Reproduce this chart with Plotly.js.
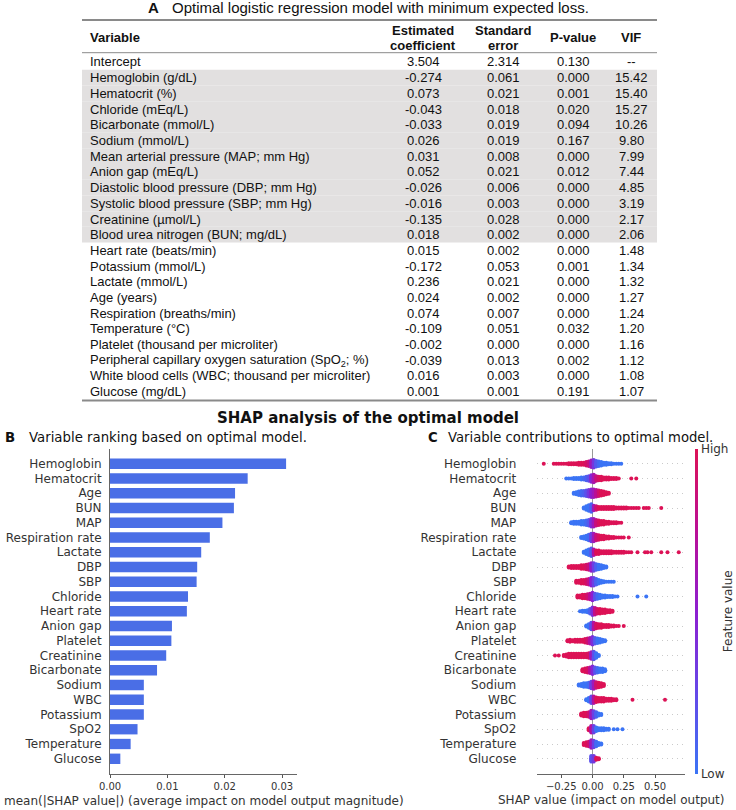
<!DOCTYPE html>
<html><head><meta charset="utf-8">
<script src="https://cdn.plot.ly/plotly-3.0.1.min.js"></script>
<style>html,body{margin:0;padding:0;background:#fff}</style>
</head><body><div id="chart" style="width:736px;height:810px"></div>
<script>
// ---------------- Table A data ----------------
const tableVariables = ['Intercept','Hemoglobin (g/dL)','Hematocrit (%)','Chloride (mEq/L)','Bicarbonate (mmol/L)','Sodium (mmol/L)',
  'Mean arterial pressure (MAP; mm Hg)','Anion gap (mEq/L)','Diastolic blood pressure (DBP; mm Hg)','Systolic blood pressure (SBP; mm Hg)',
  'Creatinine (µmol/L)','Blood urea nitrogen (BUN; mg/dL)','Heart rate (beats/min)','Potassium (mmol/L)','Lactate (mmol/L)','Age (years)',
  'Respiration (breaths/min)','Temperature (°C)','Platelet (thousand per microliter)','Peripheral capillary oxygen saturation (SpO<sub>2</sub>; %)',
  'White blood cells (WBC; thousand per microliter)','Glucose (mg/dL)'];
const tableCoef = [3.504,-0.274,0.073,-0.043,-0.033,0.026,0.031,0.052,-0.026,-0.016,-0.135,0.018,0.015,-0.172,0.236,0.024,0.074,-0.109,-0.002,-0.039,0.016,0.001];
const tableSE   = [2.314,0.061,0.021,0.018,0.019,0.019,0.008,0.021,0.006,0.003,0.028,0.002,0.002,0.053,0.021,0.002,0.007,0.051,0.000,0.013,0.003,0.001];
const tableP    = [0.130,0.000,0.001,0.020,0.094,0.167,0.000,0.012,0.000,0.000,0.000,0.000,0.000,0.001,0.000,0.000,0.000,0.032,0.000,0.002,0.000,0.191];
const tableVIF  = [null,15.42,15.40,15.27,10.26,9.80,7.99,7.44,4.85,3.19,2.17,2.06,1.48,1.34,1.32,1.27,1.24,1.20,1.16,1.12,1.08,1.07];
const tableHeaders = [['Variable'],['Estimated','coefficient'],['Standard','error'],['P-value'],['VIF']];

// ---------------- Panel B / C data ----------------
const features = ['Hemoglobin','Hematocrit','Age','BUN','MAP','Respiration rate','Lactate','DBP','SBP','Chloride','Heart rate',
  'Anion gap','Platelet','Creatinine','Bicarbonate','Sodium','WBC','Potassium','SpO2','Temperature','Glucose'];
const meanAbsShap = [0.0307,0.0240,0.0218,0.0216,0.0196,0.0174,0.0159,0.0152,0.0151,0.0136,0.0134,0.0108,0.0107,0.0098,0.0082,0.0059,0.0059,0.0059,0.0048,0.0036,0.0018];
// beeswarm, per feature: [SHAP value, number of stacked points, feature value (0 = low, 1 = high)]
const swarmBins = [
 [[-0.39,1,1],[-0.31,1,1],[-0.29,1,1],[-0.27,1,1],[-0.25,1,1],[-0.23,1,1],[-0.21,1,1],[-0.19,2,1],[-0.17,2,1],[-0.15,2,1],[-0.13,2,1],[-0.11,3,1],[-0.09,3,1],[-0.07,3,1],[-0.05,4,0.95],[-0.03,5,0.85],[-0.01,7,0.6],[0.01,8,0.35],[0.03,6,0.15],[0.05,5,0.05],[0.07,4,0],[0.09,3,0],[0.11,3,0],[0.13,2,0],[0.15,2,0],[0.17,1,0],[0.19,1,0],[0.21,1,0],[0.23,1,0]],
 [[-0.21,1,0],[-0.19,1,0],[-0.17,1,0],[-0.15,2,0],[-0.13,2,0],[-0.11,2,0],[-0.09,3,0],[-0.07,3,0.05],[-0.05,4,0.1],[-0.03,5,0.2],[-0.01,7,0.45],[0.01,8,0.65],[0.03,5,0.85],[0.05,4,0.95],[0.07,4,1],[0.09,3,1],[0.11,3,1],[0.13,3,1],[0.15,2,1],[0.17,2,1],[0.19,2,1],[0.21,1,1],[0.31,1,1],[0.35,1,1]],
 [[-0.15,2,0],[-0.13,3,0],[-0.11,4,0],[-0.09,5,0.05],[-0.07,5,0.1],[-0.05,6,0.2],[-0.03,7,0.35],[-0.01,8,0.5],[0.01,8,0.6],[0.03,7,0.75],[0.05,6,0.9],[0.07,5,1],[0.09,4,1],[0.11,3,1],[0.13,2,1]],
 [[-0.07,2,0],[-0.05,4,0],[-0.03,6,0],[-0.01,8,0.1],[0.01,5,0.6],[0.03,4,0.9],[0.05,3,1],[0.07,3,1],[0.09,3,1],[0.11,3,1],[0.13,3,1],[0.15,3,1],[0.17,3,1],[0.19,2,1],[0.21,2,1],[0.23,2,1],[0.25,2,1],[0.27,2,1],[0.29,1,1],[0.31,1,1],[0.33,1,1],[0.35,1,1],[0.37,1,1],[0.41,1,1],[0.43,1,1],[0.45,1,1],[0.55,1,1]],
 [[-0.17,2,0],[-0.15,3,0],[-0.13,3,0],[-0.11,3,0],[-0.09,4,0],[-0.07,4,0],[-0.05,5,0.05],[-0.03,6,0.15],[-0.01,8,0.4],[0.01,8,0.6],[0.03,6,0.85],[0.05,5,0.95],[0.07,4,1],[0.09,4,1],[0.11,3,1],[0.13,3,1],[0.15,2,1],[0.17,2,1],[0.19,2,1],[0.21,1,1],[0.23,1,1]],
 [[-0.09,2,0],[-0.07,3,0],[-0.05,4,0],[-0.03,6,0.05],[-0.01,8,0.3],[0.01,8,0.6],[0.03,6,0.85],[0.05,5,0.95],[0.07,4,1],[0.09,4,1],[0.11,3,1],[0.13,3,1],[0.15,2,1],[0.17,2,1],[0.19,1,1],[0.21,1,1],[0.23,1,1],[0.25,1,1],[0.29,1,1]],
 [[-0.07,2,0],[-0.05,4,0],[-0.03,6,0],[-0.01,8,0.15],[0.01,6,0.7],[0.03,4,1],[0.05,4,1],[0.07,3,1],[0.09,3,1],[0.11,3,1],[0.13,3,1],[0.15,3,1],[0.17,2,1],[0.19,2,1],[0.21,2,1],[0.23,2,1],[0.25,2,1],[0.27,1,1],[0.29,1,1],[0.31,1,1],[0.36,1,1],[0.42,1,1],[0.44,1,1],[0.47,1,1],[0.55,1,1],[0.60,1,1],[0.69,1,1]],
 [[-0.19,2,1],[-0.17,3,1],[-0.15,3,1],[-0.13,3,1],[-0.11,3,1],[-0.09,4,1],[-0.07,4,1],[-0.05,5,0.95],[-0.03,6,0.85],[-0.01,8,0.55],[0.01,8,0.3],[0.03,6,0.1],[0.05,5,0],[0.07,4,0],[0.09,3,0],[0.11,2,0]],
 [[-0.13,3,1],[-0.11,3,1],[-0.09,4,1],[-0.07,4,1],[-0.05,5,0.95],[-0.03,6,0.8],[-0.01,8,0.5],[0.01,8,0.3],[0.03,6,0.1],[0.05,4,0],[0.07,3,0],[0.09,2,0],[0.11,1,0],[0.13,1,0],[0.15,1,0],[0.17,1,0]],
 [[-0.12,3,1],[-0.10,3,1],[-0.08,4,1],[-0.06,4,1],[-0.04,5,0.9],[-0.02,6,0.75],[0.0,8,0.5],[0.02,6,0.2],[0.04,5,0.05],[0.06,4,0],[0.08,3,0],[0.10,3,0],[0.12,2,0],[0.14,2,0],[0.16,2,0],[0.18,1,0],[0.20,1,0],[0.36,1,0],[0.43,1,0]],
 [[-0.10,1,0],[-0.08,2,0],[-0.06,2,0],[-0.04,3,0],[-0.02,5,0.1],[0.0,8,0.4],[0.02,7,0.8],[0.04,5,0.95],[0.06,5,1],[0.08,4,1],[0.10,4,1],[0.12,3,1],[0.14,3,1],[0.16,2,1]],
 [[-0.05,2,0],[-0.03,4,0],[-0.01,7,0.2],[0.01,7,0.7],[0.03,5,0.95],[0.05,4,1],[0.07,4,1],[0.09,3,1],[0.11,3,1],[0.13,3,1],[0.15,2,1],[0.17,2,1],[0.19,1,1],[0.21,1,1],[0.25,1,1]],
 [[-0.20,2,1],[-0.18,3,1],[-0.16,2,1],[-0.14,3,1],[-0.12,3,1],[-0.10,3,1],[-0.08,3,1],[-0.06,4,1],[-0.04,5,0.9],[-0.02,6,0.7],[0.0,8,0.4],[0.02,6,0.15],[0.04,5,0],[0.06,4,0],[0.08,3,0],[0.10,2,0]],
 [[-0.30,1,1],[-0.27,1,1],[-0.23,2,1],[-0.21,3,1],[-0.19,4,1],[-0.17,4,1],[-0.15,4,1],[-0.13,4,1],[-0.11,4,1],[-0.09,4,1],[-0.07,4,1],[-0.05,4,1],[-0.03,5,0.95],[-0.01,7,0.6],[0.01,8,0.2],[0.03,5,0],[0.05,2,0]],
 [[-0.08,3,1],[-0.06,4,1],[-0.04,5,0.95],[-0.02,6,0.75],[0.0,8,0.45],[0.02,6,0.2],[0.04,5,0.05],[0.06,4,0],[0.08,4,0],[0.10,3,0]],
 [[-0.11,2,0],[-0.09,3,0],[-0.07,4,0],[-0.05,4,0],[-0.03,5,0.05],[-0.01,7,0.3],[0.01,8,0.6],[0.03,6,0.9],[0.05,5,1],[0.07,4,1],[0.09,3,1]],
 [[-0.05,2,0],[-0.03,4,0],[-0.01,7,0.25],[0.01,7,0.7],[0.03,5,1],[0.05,4,1],[0.07,4,1],[0.09,4,1],[0.11,3,1],[0.13,3,1],[0.15,3,1],[0.17,2,1],[0.19,2,1],[0.32,1,1],[0.58,1,1]],
 [[-0.09,3,1],[-0.07,4,1],[-0.05,4,1],[-0.03,5,0.9],[-0.01,8,0.6],[0.01,7,0.3],[0.03,5,0.1],[0.05,3,0],[0.07,2,0]],
 [[-0.03,3,1],[-0.01,7,0.7],[0.01,7,0.3],[0.03,4,0],[0.05,3,0],[0.07,3,0],[0.09,3,0],[0.11,2,0],[0.13,2,0],[0.17,1,0],[0.20,1,0],[0.24,1,0]],
 [[-0.07,3,1],[-0.05,4,1],[-0.03,5,0.9],[-0.01,8,0.6],[0.01,7,0.3],[0.03,5,0.05],[0.05,3,0],[0.07,2,0]],
 [[-0.01,6,0.2],[0.01,6,0.35],[0.03,3,1],[0.05,2,1]]
];

// ---------------- geometry & style ----------------
const W = 736, H = 810;
const fx = v => v / W, fy = v => 1 - v / H;
const tblL = 82, tblR = 657, ruleTop = 20, ruleHead = 52.7, row0 = 62, rowH = 15.7;
const colX = [88, 423, 503, 573, 631];
const plotTop = 449, plotBot = 773.5;
const tblFont = {family: 'Liberation Sans, Arial, sans-serif', size: 13, color: '#111'};
const chartFont = 'DejaVu Sans';
const barColor = '#4a6ee6';
const redBlue = [[0,'#3b74f5'],[0.25,'#6448e8'],[0.5,'#8d1fd0'],[0.75,'#bb0f95'],[1,'#dc1256']];

const shapes = [], annotations = [];
const nRows = features.length;
const rowPos = i => nRows - i; // top feature highest

// table
const rowY = i => row0 + i * rowH;
tableVariables.forEach((v, i) => {
  if (tableVIF[i] !== null && tableVIF[i] > 2) {
    shapes.push({type:'rect', xref:'paper', yref:'paper', x0:fx(tblL), x1:fx(tblR),
      y0:fy(rowY(i) - rowH/2), y1:fy(rowY(i) + rowH/2), fillcolor:'#e2e0e0', line:{width:0}, layer:'below'});
  }
  const y = fy(rowY(i));
  const cells = [v, tableCoef[i].toFixed(3), tableSE[i].toFixed(3), tableP[i].toFixed(3), tableVIF[i] === null ? '--' : tableVIF[i].toFixed(2)];
  cells.forEach((t, c) => annotations.push({xref:'paper', yref:'paper', x:fx(colX[c]), y:y, text:t, showarrow:false,
    xanchor: c === 0 ? 'left' : 'center', yanchor:'middle', font:tblFont}));
});
tableHeaders.forEach((lines, c) => {
  const ys = lines.length === 2 ? [30.7, 45] : [37.8];
  lines.forEach((t, k) => annotations.push({xref:'paper', yref:'paper', x:fx(colX[c]), y:fy(ys[k]), text:'<b>'+t+'</b>',
    showarrow:false, xanchor: c === 0 ? 'left' : 'center', yanchor:'middle', font:tblFont}));
});
[[ruleTop,2],[ruleHead,1],[400.5,2]].forEach(([y, w]) => shapes.push({type:'line', xref:'paper', yref:'paper',
  x0:fx(tblL), x1:fx(tblR), y0:fy(y), y1:fy(y), line:{color:'#8a8a8a', width:w}}));

// titles
const txt = (x, y, text, size, opts) => annotations.push(Object.assign({xref:'paper', yref:'paper', x:fx(x), y:fy(y), text,
  showarrow:false, xanchor:'left', yanchor:'middle', font:{family:chartFont, size, color:'#111'}}, opts || {}));
txt(146, 8, '<b>A</b>', 15, {font:{family:tblFont.family, size:15, color:'#111'}});
txt(170, 8, 'Optimal logistic regression model with minimum expected loss.', 15, {font:{family:tblFont.family, size:15, color:'#111'}});
txt(368, 418, '<b>SHAP analysis of the optimal model</b>', 15, {xanchor:'center'});
txt(3, 437.7, '<b>B</b>', 13.3);
txt(27, 437.7, 'Variable ranking based on optimal model.', 13.3);
txt(426, 437.7, '<b>C</b>', 13.2);
txt(446, 437.7, 'Variable contributions to optimal model.', 13.2);
txt(203.5, 801, 'mean(|SHAP value|) (average impact on model output magnitude)', 12, {xanchor:'center', font:{family:chartFont, size:12, color:'#333'}});
txt(611, 800, 'SHAP value (impact on model output)', 12, {xanchor:'center', font:{family:chartFont, size:12, color:'#333'}});
txt(728, 611.25, 'Feature value', 12, {xanchor:'center', textangle:-90, font:{family:chartFont, size:12, color:'#333'}});

// beeswarm points
const dy = 1.1 / ((plotBot - plotTop) / (nRows + 1));
const sx = [], sy = [], sc = [];
swarmBins.forEach((bins, i) => {
  bins.forEach(([x, n, c]) => {
    for (let k = 0; k < n; k++) {
      sx.push(x); sy.push(rowPos(i) + (k - (n - 1) / 2) * dy); sc.push(c);
    }
  });
});

const data = [
  {type:'bar', orientation:'h', x:meanAbsShap, y:features.map((f, i) => rowPos(i)), width:0.7,
   marker:{color:barColor, line:{width:0}}, xaxis:'x', yaxis:'y', hoverinfo:'skip'},
  {type:'scatter', mode:'markers', x:sx, y:sy, xaxis:'x2', yaxis:'y2', hoverinfo:'skip',
   marker:{size:4, color:sc, cmin:0, cmax:1, colorscale:redBlue, line:{width:0}, showscale:true,
     colorbar:{thickness:3, thicknessmode:'pixels', len:plotBot - plotTop, lenmode:'pixels',
       x:fx(695), xanchor:'left', xpad:0, y:fy((plotTop + plotBot) / 2), yanchor:'middle', ypad:0,
       outlinewidth:0, tickvals:[0, 1], ticktext:['Low', 'High'], ticks:'', ticklen:0,
       tickfont:{family:chartFont, size:12, color:'#333'}}}}
];

const tickvals = features.map((f, i) => rowPos(i));
const layout = {
  width:W, height:H, margin:{l:0, r:0, t:0, b:0}, paper_bgcolor:'#fff', plot_bgcolor:'rgba(0,0,0,0)',
  showlegend:false, font:{family:chartFont, color:'#333'},
  xaxis:{domain:[fx(110), fx(297)], range:[0, 0.0326], anchor:'y', tick0:0, dtick:0.01, tickformat:'.2f',
    showline:true, linecolor:'#666', linewidth:1, ticks:'outside', ticklen:3.5, tickcolor:'#555',
    showgrid:false, zeroline:false, tickfont:{family:chartFont, size:10, color:'#333'}},
  yaxis:{domain:[fy(plotBot), fy(plotTop)], range:[0, nRows + 1], anchor:'x', tickvals, ticktext:features,
    showline:true, linecolor:'#666', linewidth:1, ticks:'', showgrid:false, zeroline:false, ticklabelstandoff:5,
    tickfont:{family:chartFont, size:12, color:'#333'}},
  xaxis2:{domain:[fx(537.3), fx(685)], range:[-0.4416, 0.74], anchor:'y2', tick0:0, dtick:0.25, tickformat:'.2f',
    showline:true, linecolor:'#666', linewidth:1, ticks:'outside', ticklen:3.5, tickcolor:'#555',
    showgrid:false, zeroline:true, zerolinecolor:'#999', zerolinewidth:1, tickfont:{family:chartFont, size:10, color:'#333'}},
  yaxis2:{domain:[fy(plotBot), fy(plotTop)], range:[0, nRows + 1], anchor:'x2', tickvals, ticktext:features,
    showline:false, ticks:'', showgrid:true, gridcolor:'#bdbdbd', gridwidth:0.8, griddash:'1px,4px', zeroline:false,
    ticklabelstandoff:20, tickfont:{family:chartFont, size:12, color:'#333'}},
  shapes, annotations
};
Plotly.newPlot('chart', data, layout, {staticPlot:true, displayModeBar:false});
</script></body></html>
